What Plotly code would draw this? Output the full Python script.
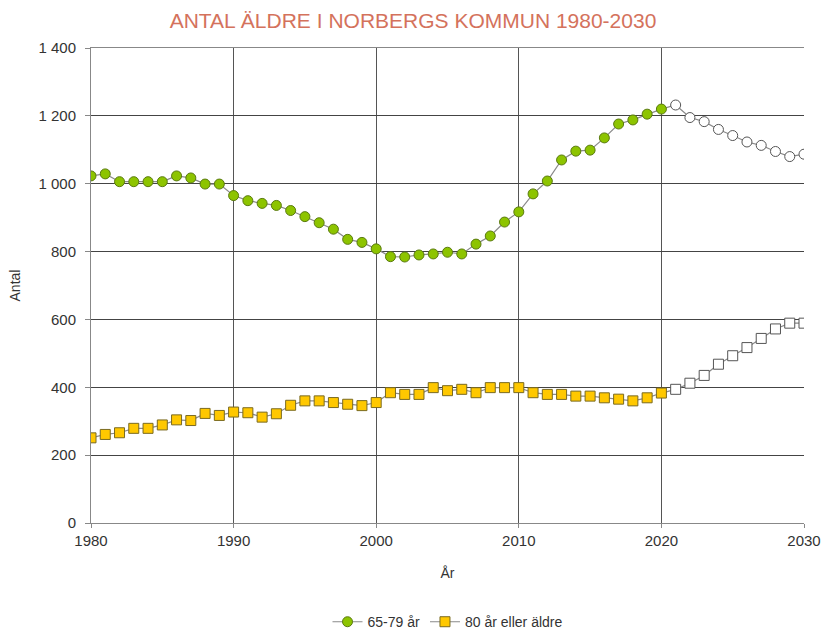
import plotly.graph_objects as go

years = list(range(1980, 2031))
forecast_start = 2021

age_65_79 = [1023, 1029, 1006, 1006, 1006, 1006, 1023, 1017, 999, 999,
             965, 950, 942, 936, 921, 903, 885, 866, 836, 827,
             808, 785, 784, 790, 793, 798, 793, 822, 846, 887,
             917, 970, 1008, 1070, 1096, 1099, 1135, 1176, 1188, 1205,
             1220, 1232, 1195, 1183, 1160, 1142, 1123, 1113, 1095, 1080,
             1087]

age_80_plus = [251, 261, 266, 279, 279, 289, 304, 302, 323, 317,
               327, 325, 312, 322, 347, 360, 360, 355, 350, 346,
               355, 384, 379, 379, 399, 390, 394, 384, 399, 399,
               399, 384, 379, 379, 374, 374, 369, 365, 360, 369,
               383, 394, 412, 435, 468, 493, 517, 544, 572, 589,
               589]

y_ticks = [0, 200, 400, 600, 800, 1000, 1200, 1400]
x_ticks = [1980, 1990, 2000, 2010, 2020, 2030]

FONT = "Liberation Sans Narrow, Arial Narrow, Liberation Sans, sans-serif"

def fills(color):
    return [color if y < forecast_start else "white" for y in years]

def borders(color):
    return [color if y < forecast_start else "#555555" for y in years]

fig = go.Figure()
fig.add_trace(go.Scatter(
    x=years, y=age_65_79, name="65-79 år", mode="lines+markers",
    line=dict(color="#8a8a8a", width=1.2),
    marker=dict(symbol="circle", size=10, color=fills("#8DC400"),
                line=dict(color=borders("#5a7a10"), width=1)),
))
fig.add_trace(go.Scatter(
    x=years, y=age_80_plus, name="80 år eller äldre", mode="lines+markers",
    line=dict(color="#8a8a8a", width=1.2),
    marker=dict(symbol="square", size=10, color=fills("#FFC800"),
                line=dict(color=borders("#7a6a20"), width=1)),
))

fig.update_layout(
    width=826, height=632,
    margin=dict(l=91, r=22, t=48, b=109, autoexpand=False),
    paper_bgcolor="white", plot_bgcolor="white",
    separators=", ",
    font=dict(family=FONT, size=14, color="#333333"),
    title=dict(text="ANTAL ÄLDRE I NORBERGS KOMMUN 1980-2030",
               x=0.5, xanchor="center", y=0.979, yanchor="top",
               font=dict(family=FONT, size=21, color="#D4725C")),
    showlegend=True,
    legend=dict(orientation="h", x=0.5, xanchor="center", y=-0.175, yanchor="top",
                font=dict(family=FONT, size=14, color="#333333")),
    xaxis=dict(
        range=[1980, 2030], tickvals=x_ticks, tickformat="d",
        showgrid=True, gridcolor="#555555", gridwidth=1.3,
        showline=True, linecolor="#888888", linewidth=1, mirror=True,
        ticks="outside", ticklen=4, tickcolor="#888888",
        zeroline=False, automargin=False,
        title=dict(text="År", standoff=20, font=dict(size=14)),
        tickfont=dict(size=15),
    ),
    yaxis=dict(
        range=[0, 1400], tickvals=y_ticks, tickformat=",d",
        showgrid=True, gridcolor="#444444", gridwidth=1,
        showline=True, linecolor="#888888", linewidth=1,
        ticks="outside", ticklen=5, tickcolor="#888888",
        ticklabelstandoff=6,
        zeroline=False, automargin=False,
        title=dict(text="Antal", standoff=14, font=dict(size=14)),
        tickfont=dict(size=15),
    ),
)

fig.write_html(
    "out.html",
    config={"displayModeBar": False},
    post_script="document.body.style.margin='0px';document.body.style.overflow='hidden';",
)
